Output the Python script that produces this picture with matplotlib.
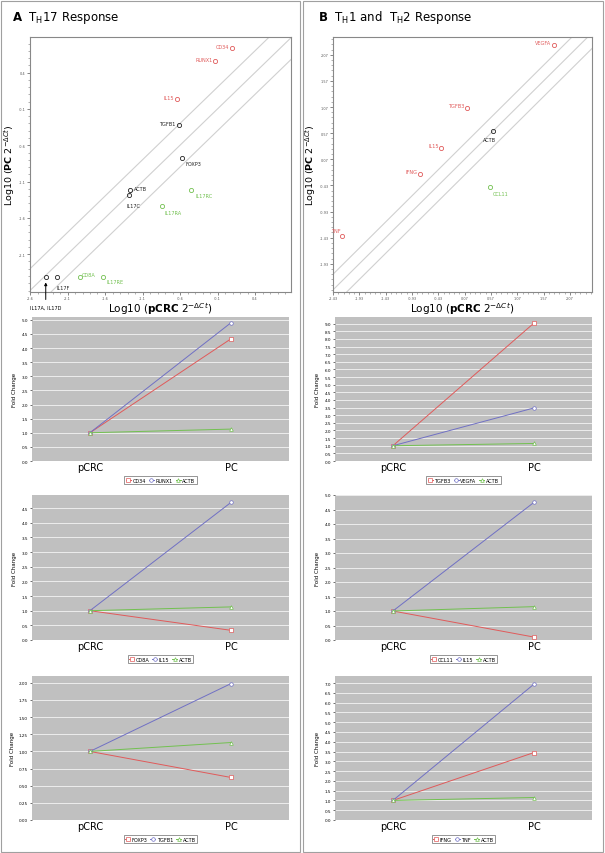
import matplotlib
matplotlib.use("Agg")
import matplotlib.pyplot as plt
import numpy as np
from matplotlib.ticker import AutoMinorLocator, FixedLocator
from matplotlib.patches import Rectangle

# ---- data ----
# panel A scatter (log10 2^-dCt)
a_genes = ['CD34', 'RUNX1', 'IL15', 'TGFB1', 'FOXP3', 'ACTB', 'IL17C',
           'IL17RC', 'IL17RA', 'CD8A', 'IL17RE', 'IL17F', 'IL17A, IL17D']
a_x = [0.09, -0.13, -0.64, -0.62, -0.58, -1.27, -1.28, -0.45, -0.84, -1.93, -1.63, -2.24, -2.39]
a_y = [0.74, 0.565, 0.04, -0.32, -0.77, -1.21, -1.29, -1.22, -1.43, -2.42, -2.42, -2.42, -2.42]
a_grp = ['up', 'up', 'up', 'ns', 'ns', 'ns', 'ns', 'down', 'down', 'down', 'down', 'ns', 'ns']
a_ticks_x = [-2.6, -2.1, -1.6, -1.1, -0.6, -0.1, 0.4]
a_ticks_y = [-2.1, -1.6, -1.1, -0.6, -0.1, 0.4]

# panel B scatter
b_genes = ['VEGFA', 'TGFB3', 'ACTB', 'IL15', 'IFNG', 'CCL11', 'TNF']
b_x = [1.77, 0.11, 0.6, -0.37, -0.77, 0.56, -2.25]
b_y = [2.25, 1.05, 0.61, 0.29, -0.22, -0.47, -1.39]
b_grp = ['up', 'up', 'ns', 'up', 'up', 'down', 'up']
b_ticks_x = [-2.43, -1.93, -1.43, -0.93, -0.43, 0.07, 0.57, 1.07, 1.57, 2.07]
b_ticks_y = [-1.93, -1.43, -0.93, -0.43, 0.07, 0.57, 1.07, 1.57, 2.07]

# fold change line charts: pCRC -> PC
groups = ['pCRC', 'PC']
fc_left = [
    (['CD34', 'RUNX1', 'ACTB'], [[1.0, 4.33], [1.0, 4.9], [1.0, 1.13]]),
    (['CD8A', 'IL15', 'ACTB'], [[1.0, 0.33], [1.0, 4.7], [1.0, 1.13]]),
    (['FOXP3', 'TGFB1', 'ACTB'], [[1.0, 0.62], [1.0, 1.99], [1.0, 1.13]]),
]
fc_right = [
    (['TGFB3', 'VEGFA', 'ACTB'], [[1.0, 9.05], [1.0, 3.48], [1.0, 1.15]]),
    (['CCL11', 'IL15', 'ACTB'], [[1.0, 0.1], [1.0, 4.75], [1.0, 1.15]]),
    (['IFNG', 'TNF', 'ACTB'], [[1.0, 3.45], [1.0, 6.95], [1.0, 1.15]]),
]
fc_ylims = [(5.1, 9.44), (4.95, 5.0), (2.1, 7.36)]
fc_steps = [(0.5, 0.5), (0.5, 0.5), (0.25, 0.5)]

RED = '#e05a5a'
BLUE = '#7070c4'
GREEN = '#72c050'
grp_col = {'up': RED, 'down': GREEN, 'ns': '#222222'}

W, H = 605, 854
fig = plt.figure(figsize=(W / 100, H / 100), dpi=100)


def box(l, t, r, b):
    return [l / W, 1 - b / H, (r - l) / W, (b - t) / H]


# panel borders
for l, r in [(1, 300), (303, 603)]:
    fig.add_artist(Rectangle((l / W, 1 / H), (r - l) / W, 1 - 3 / H, transform=fig.transFigure,
                             fill=False, edgecolor='#a0a0a0', lw=0.8))


def scatter_panel(ax, xs, ys, grps, xt, yt, xlim, ylim, ylab_x):
    d = np.array([min(xlim[0], ylim[0]) - 1, max(xlim[1], ylim[1]) + 1])
    for off in (-0.3, 0.0, 0.3):
        ax.plot(d, d + off, color='#d0d0d0', lw=0.8, zorder=1)
    for x, y, g in zip(xs, ys, grps):
        ax.plot(x, y, 'o', mfc='none', mec=grp_col[g], ms=3.0, mew=0.6, zorder=3)
    ax.set_xlim(xlim)
    ax.set_ylim(ylim)
    ax.xaxis.set_major_locator(FixedLocator(xt))
    ax.yaxis.set_major_locator(FixedLocator(yt))
    ax.set_xticklabels([f'{v:g}' if abs(v * 10 - round(v * 10)) < 1e-6 else f'{v:.2f}' for v in xt])
    ax.set_yticklabels([f'{v:g}' if abs(v * 10 - round(v * 10)) < 1e-6 else f'{v:.2f}' for v in yt])
    ax.xaxis.set_minor_locator(AutoMinorLocator(5))
    ax.yaxis.set_minor_locator(AutoMinorLocator(5))
    ax.tick_params(which='major', length=2, width=0.5, labelsize=2.5, pad=1, colors='#555555')
    ax.tick_params(which='minor', length=1.2, width=0.4, colors='#777777')
    for s in ax.spines.values():
        s.set_color('#888888')
        s.set_linewidth(0.8)
    ax.set_xlabel(r'Log10 ($\mathbf{pCRC}$ 2$^{-\Delta Ct}$)', fontsize=7.5, labelpad=0)
    ax.set_ylabel(r'Log10 ($\mathbf{PC}$ 2$^{-\Delta Ct}$)', fontsize=6.8)
    ax.yaxis.set_label_coords(ylab_x, 0.5)


# ---- panel A scatter ----
axA = fig.add_axes(box(30, 38, 291, 293))
scatter_panel(axA, a_x, a_y, a_grp, a_ticks_x, a_ticks_y, (-2.6, 0.88), (-2.62, 0.89), -0.05)
a_off = {'CD34': (-2, 1, 'right'), 'RUNX1': (-2, 1, 'right'), 'IL15': (-2, 1, 'right'),
         'TGFB1': (-2, 1, 'right'), 'FOXP3': (3, -4, 'left'), 'ACTB': (3, 1, 'left'),
         'IL17C': (-2, -7, 'left'), 'IL17RC': (3, -4, 'left'), 'IL17RA': (2, -5, 'left'),
         'CD8A': (1, 2, 'left'), 'IL17RE': (3, -3, 'left'), 'IL17F': (0, -7, 'left')}
for g, x, y, c in zip(a_genes, a_x, a_y, a_grp):
    if g in a_off:
        dx, dy, ha = a_off[g]
        axA.annotate(g, (x, y), xytext=(dx, dy), textcoords='offset points', fontsize=3.6,
                     color=grp_col[c], ha=ha, va='center')
axA.annotate(a_genes[-1], (a_x[-1], a_y[-1] - 0.03), xytext=(a_x[-1], -2.8),
             textcoords='data', fontsize=3.6, ha='center', va='top', annotation_clip=False,
             arrowprops=dict(arrowstyle='-|>', color='black', lw=0.7, mutation_scale=4))
fig.text(12 / W, 1 - 18 / H, r'$\mathbf{A}$  T$_\mathregular{H}$17 Response', fontsize=8.5,
         va='center')

# ---- panel B scatter ----
axB = fig.add_axes(box(333, 38, 592, 293))
scatter_panel(axB, b_x, b_y, b_grp, b_ticks_x, b_ticks_y, (-2.43, 2.49), (-2.47, 2.41), -0.058)
b_off = {'VEGFA': (-2, 2, 'right'), 'TGFB3': (-2, 2, 'right'), 'ACTB': (-2, -6, 'center'),
         'IL15': (-2, 2, 'right'), 'IFNG': (-2, 2, 'right'), 'CCL11': (2, -4, 'left'),
         'TNF': (-1, 4, 'right')}
for g, x, y, c in zip(b_genes, b_x, b_y, b_grp):
    dx, dy, ha = b_off[g]
    axB.annotate(g, (x, y), xytext=(dx, dy), textcoords='offset points', fontsize=3.6,
                 color=grp_col[c], ha=ha, va='center')
fig.text(318 / W, 1 - 18 / H, r'$\mathbf{B}$  T$_\mathregular{H}$1 and  T$_\mathregular{H}$2 Response',
         fontsize=8.5, va='center')

# ---- fold change line charts ----
rows = [(318, 462), (496, 641), (677, 821)]
styles = [(RED, 's'), (BLUE, 'o'), (GREEN, '^')]
xpos = np.arange(len(groups))


def fc_panel(ax, names, vals, ymax, step):
    ax.set_facecolor('#c0c0c0')
    for name, v, (col, mk) in zip(names, vals, styles):
        ax.plot(xpos, v, color=col, lw=0.7, marker=mk, ms=2.6, mfc='white', mec=col,
                mew=0.5, label=name)
    ax.set_xlim(-0.41, 1.41)
    ax.set_ylim(0, ymax)
    ax.set_yticks(np.arange(0, ymax + 1e-9, step))
    fmt = '{:.2f}' if step < 0.5 else '{:.1f}'
    ax.set_yticklabels([fmt.format(t) for t in np.arange(0, ymax + 1e-9, step)])
    ax.grid(axis='y', color='white', lw=0.5)
    ax.set_axisbelow(True)
    ax.set_xticks(xpos)
    ax.set_xticklabels(groups, fontsize=7)
    ax.tick_params(axis='x', length=0, pad=1)
    ax.tick_params(axis='y', labelsize=3, length=1.5, width=0.4, pad=1.5)
    for s in ax.spines.values():
        s.set_visible(False)
    ax.set_ylabel('Fold Change', fontsize=4, labelpad=3)
    leg = ax.legend(loc='upper center', bbox_to_anchor=(0.5, -0.105), ncol=3, fontsize=3.6,
                    frameon=True, fancybox=False, edgecolor='#666666', handlelength=1.0,
                    handletextpad=0.3, columnspacing=0.6, borderpad=0.3, borderaxespad=0)
    leg.get_frame().set_linewidth(0.6)


for i, (t, b) in enumerate(rows):
    axl = fig.add_axes(box(32, t, 289, b))
    fc_panel(axl, fc_left[i][0], fc_left[i][1], fc_ylims[i][0], fc_steps[i][0])
    axr = fig.add_axes(box(335, t, 592, b))
    fc_panel(axr, fc_right[i][0], fc_right[i][1], fc_ylims[i][1], fc_steps[i][1])

fig.savefig('out.png', dpi=100)
